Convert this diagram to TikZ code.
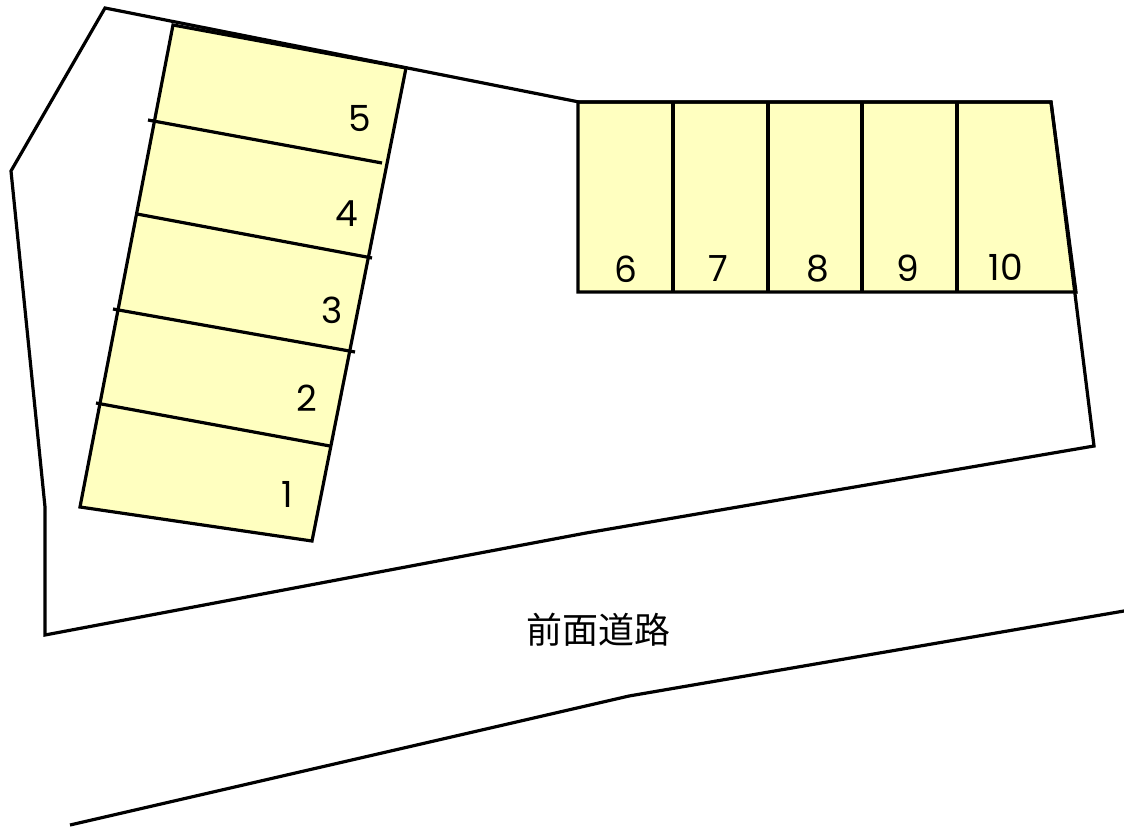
\documentclass[tikz,border=0pt]{standalone}
\usepackage{fontspec}
\setmainfont{Poppins}
\newfontfamily\cjk{Noto Sans CJK JP}
\definecolor{lot}{RGB}{255,255,192}
\begin{document}
\begin{tikzpicture}[x=1pt,y=-1pt]
\tikzset{ln/.style={line width=3.2pt,black,line join=miter},num/.style={font=\fontsize{36}{36}\selectfont,inner sep=0pt,anchor=center},roadlabel/.style={font=\cjk\fontsize{36}{36}\selectfont,inner sep=0pt}}
\useasboundingbox (0,0) rectangle (1124,829);
% fills
\fill[lot] (173,25) -- (406,68) -- (312,541) -- (80,507) -- cycle;
\fill[lot] (578,102) -- (1051,102) -- (1076,292) -- (578,292) -- cycle;
% site
\draw[ln] (579,102) -- (105,8) -- (11,171) -- (45,507) -- (45,635) -- (586,533) -- (1094,446) -- (1051,102) -- cycle;
\draw[ln] (70,825) -- (629,696) -- (1124,611);
% left block
\draw[ln] (173,25) -- (406,68) -- (312,541) -- (80,507) -- cycle;
\draw[ln] (148,120) -- (382,163);
\draw[ln] (137,214) -- (372,258);
\draw[ln] (113,309) -- (355,352);
\draw[ln] (96,403) -- (330,446);
% right block
\draw[ln] (578,102) -- (1051,102) -- (1076,292) -- (578,292) -- cycle;
\foreach \x in {673,768,862,957} \draw[ln] (\x,102) -- (\x,292);
\node[num] (n1) at (287,494) {1};
\node[num] (n2) at (307,398) {2};
\node[num] (n3) at (332,310) {3};
\node[num] (n4) at (347,214) {4};
\node[num] (n5) at (360,119) {5};
\node[num] (n6) at (626,269) {6};
\node[num] (n7) at (718,269) {7};
\node[num] (n8) at (818,269) {8};
\node[num] (n9) at (908,268) {9};
\node[num] (n10) at (1006,267) {10};
\node[roadlabel] (road) at (598,630) {前面道路};
\end{tikzpicture}
\end{document}
